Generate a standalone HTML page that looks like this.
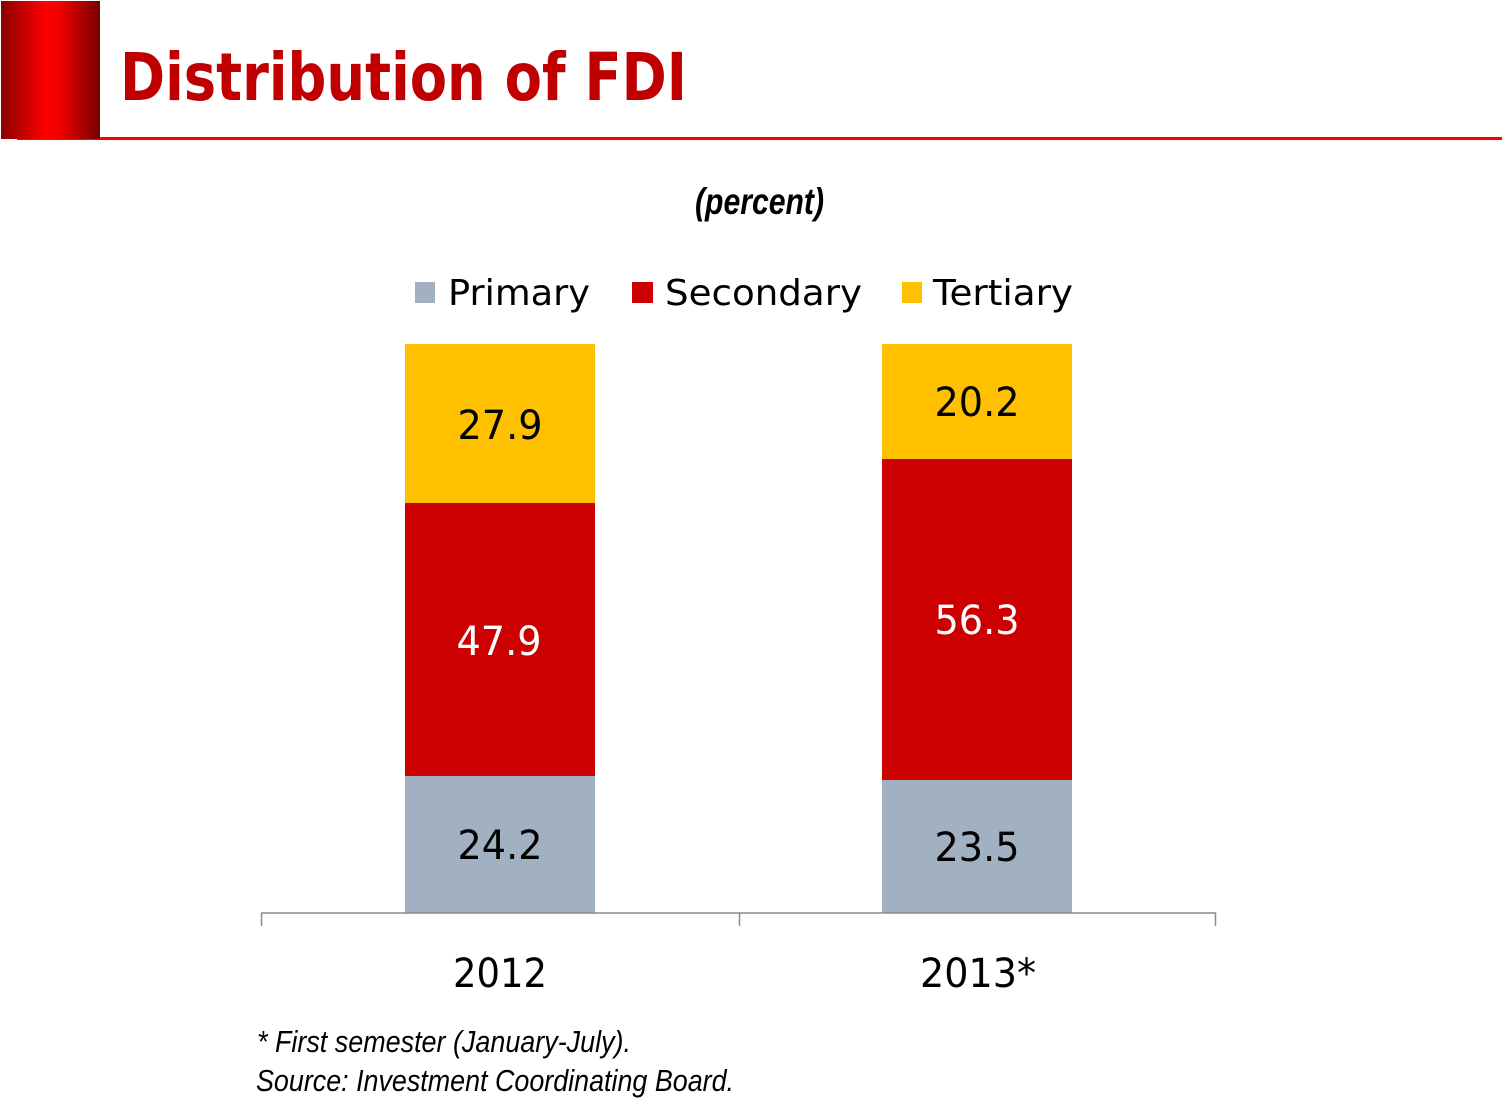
<!DOCTYPE html>
<html><head><meta charset="utf-8"><style>
html,body{margin:0;padding:0;background:#fff;}
svg{display:block;}
</style></head><body>
<svg width="1502" height="1110" viewBox="0 0 1502 1110" xmlns="http://www.w3.org/2000/svg">
<defs>
<linearGradient id="g" x1="0" y1="0" x2="1" y2="0">
<stop offset="0" stop-color="#8a0000"/>
<stop offset="0.45" stop-color="#ff0000"/>
<stop offset="0.6" stop-color="#ee0000"/>
<stop offset="1" stop-color="#760000"/>
</linearGradient>
</defs>
<rect x="0" y="0" width="1502" height="1110" fill="#fff"/>
<rect x="17" y="137" width="1485" height="3" fill="#ff0000"/>
<rect x="1" y="1" width="99" height="138" fill="url(#g)"/>
<text x="120" y="100" font-family="DejaVu Sans, sans-serif" font-weight="bold" font-size="66" fill="#c00000" textLength="567" lengthAdjust="spacingAndGlyphs">Distribution of FDI</text>

<text x="695" y="214" font-family="Liberation Sans, sans-serif" font-weight="bold" font-style="italic" font-size="37" fill="#000" textLength="129" lengthAdjust="spacingAndGlyphs">(percent)</text>

<!-- legend -->
<rect x="415" y="282" width="20" height="21" fill="#a2b1c1"/>
<text x="448" y="305" font-family="DejaVu Sans, sans-serif" font-size="36" fill="#000" textLength="142" lengthAdjust="spacingAndGlyphs">Primary</text>
<rect x="632" y="282" width="21" height="21" fill="#cc0000"/>
<text x="665" y="305" font-family="DejaVu Sans, sans-serif" font-size="36" fill="#000" textLength="197" lengthAdjust="spacingAndGlyphs">Secondary</text>
<rect x="902" y="282" width="20" height="21" fill="#ffc000"/>
<text x="933" y="305" font-family="DejaVu Sans, sans-serif" font-size="36" fill="#000" textLength="140" lengthAdjust="spacingAndGlyphs">Tertiary</text>

<!-- bars 2012 -->
<rect x="405" y="344" width="190" height="159" fill="#ffc000"/>
<rect x="405" y="503" width="190" height="273" fill="#cc0000"/>
<rect x="405" y="776" width="190" height="137" fill="#a2b1c1"/>
<!-- bars 2013 -->
<rect x="882" y="344" width="190" height="115" fill="#ffc000"/>
<rect x="882" y="459" width="190" height="321" fill="#cc0000"/>
<rect x="882" y="780" width="190" height="133" fill="#a2b1c1"/>

<g font-family="DejaVu Sans, sans-serif" font-size="40" text-anchor="middle">
<text x="500" y="439" fill="#000" textLength="85" lengthAdjust="spacingAndGlyphs">27.9</text>
<text x="499" y="655" fill="#fff" textLength="85" lengthAdjust="spacingAndGlyphs">47.9</text>
<text x="500" y="859" fill="#000" textLength="85" lengthAdjust="spacingAndGlyphs">24.2</text>
<text x="977" y="416" fill="#000" textLength="85" lengthAdjust="spacingAndGlyphs">20.2</text>
<text x="977" y="634" fill="#fff" textLength="85" lengthAdjust="spacingAndGlyphs">56.3</text>
<text x="977" y="861" fill="#000" textLength="85" lengthAdjust="spacingAndGlyphs">23.5</text>
<text x="500" y="987" fill="#000" textLength="94" lengthAdjust="spacingAndGlyphs">2012</text>
<text x="978" y="987" fill="#000" textLength="116" lengthAdjust="spacingAndGlyphs">2013*</text>
</g>

<!-- axis -->
<g stroke="#8c8c8c" stroke-width="1.5" fill="none">
<line x1="261" y1="913" x2="1216" y2="913"/>
<line x1="261.5" y1="913" x2="261.5" y2="926"/>
<line x1="739.5" y1="913" x2="739.5" y2="926"/>
<line x1="1215.5" y1="913" x2="1215.5" y2="926"/>
</g>

<text x="257" y="1052" font-family="Liberation Sans, sans-serif" font-style="italic" font-size="31" fill="#000" textLength="374" lengthAdjust="spacingAndGlyphs">* First semester (January-July).</text>
<text x="256" y="1091" font-family="Liberation Sans, sans-serif" font-style="italic" font-size="31" fill="#000" textLength="478" lengthAdjust="spacingAndGlyphs">Source: Investment Coordinating Board.</text>
</svg>
</body></html>
